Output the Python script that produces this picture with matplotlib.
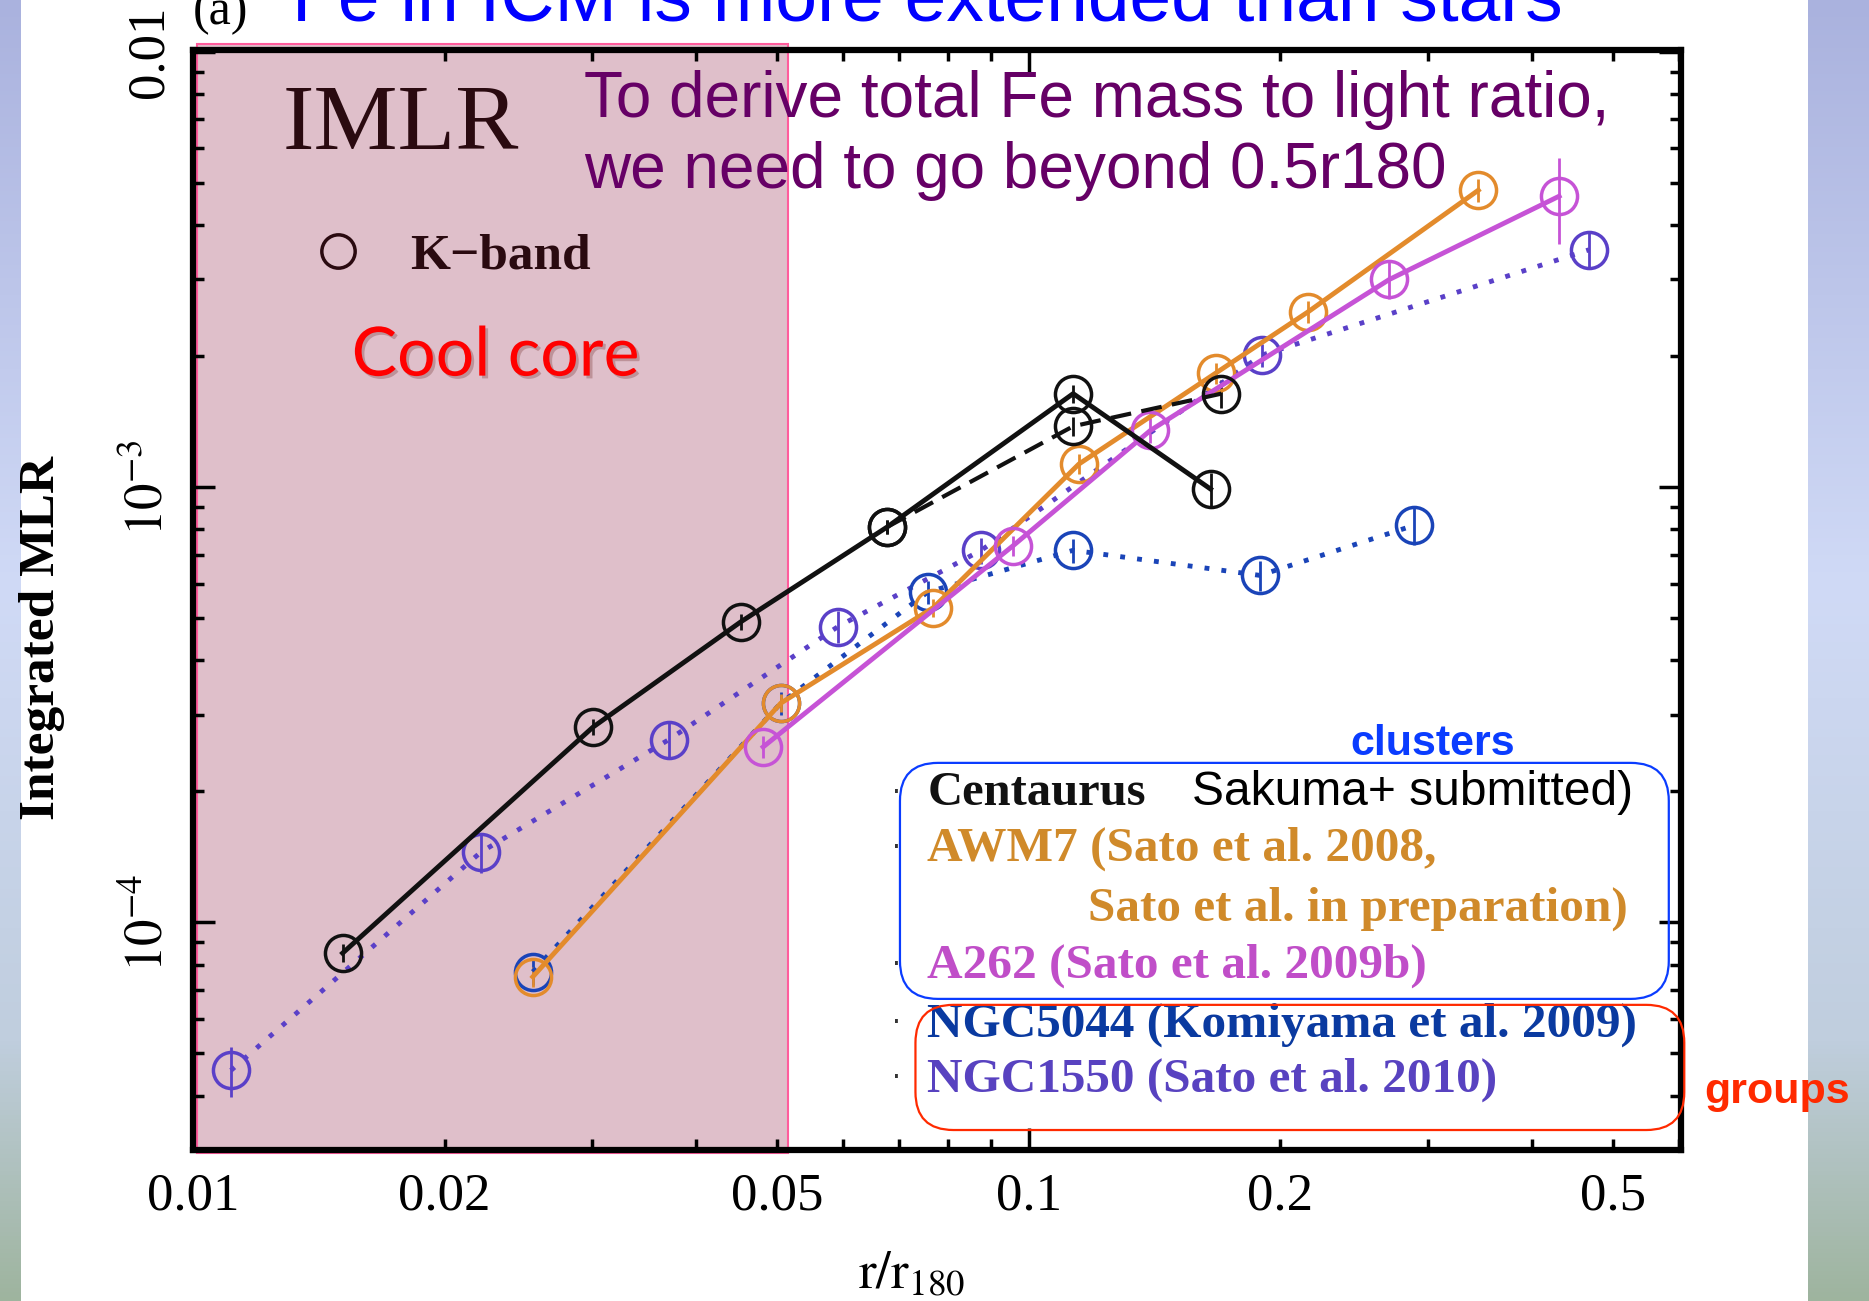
import matplotlib
matplotlib.use('Agg')
import matplotlib.pyplot as plt
import matplotlib.patheffects as pe
import numpy as np
from matplotlib.patches import FancyBboxPatch, Rectangle
from matplotlib.lines import Line2D
from matplotlib.ticker import LogLocator, NullFormatter

plt.rcParams['mathtext.fontset'] = 'stix'
SERIF = ['Liberation Serif', 'DejaVu Serif']
NARROW = ['Liberation Sans Narrow', 'Liberation Sans', 'DejaVu Sans']

# ---- data (r/r180, integrated MLR) ----
# Centaurus (solid) and its dashed variant
cen_x = [0.0151, 0.0301, 0.0452, 0.0677, 0.113, 0.165]
cen_y = [8.5e-5, 2.81e-4, 4.9e-4, 8.1e-4, 1.64e-3, 9.9e-4]
cen_err = [4e-6, 1.2e-5, 2e-5, 3e-5, 8e-5, 9e-5]
cen2_x = [0.0677, 0.113, 0.170]
cen2_y = [8.1e-4, 1.38e-3, 1.64e-3]
cen2_err = [3e-5, 7e-5, 1.2e-4]

# AWM7
awm_x = [0.0255, 0.0505, 0.0769, 0.1148, 0.1675, 0.216, 0.345]
awm_y = [7.5e-5, 3.19e-4, 5.29e-4, 1.13e-3, 1.83e-3, 2.53e-3, 4.81e-3]
awm_err = [4e-6, 1.5e-5, 2.5e-5, 6e-5, 1e-4, 1.5e-4, 3e-4]

# A262
a262_x = [0.0481, 0.0958, 0.1398, 0.270, 0.431]
a262_y = [2.53e-4, 7.34e-4, 1.35e-3, 3.0e-3, 4.66e-3]
a262_err = [1.5e-5, 4e-5, 9e-5, 3e-4, 1.05e-3]

# NGC5044
n5044_x = [0.0255, 0.0505, 0.0757, 0.113, 0.189, 0.289]
n5044_y = [7.7e-5, 3.19e-4, 5.74e-4, 7.16e-4, 6.27e-4, 8.17e-4]
n5044_err = [5e-6, 2e-5, 3.5e-5, 4.5e-5, 5e-5, 8e-5]

# NGC1550
n1550_x = [0.0111, 0.0221, 0.0371, 0.0591, 0.0877, 0.190, 0.468]
n1550_y = [4.57e-5, 1.45e-4, 2.63e-4, 4.78e-4, 7.16e-4, 2.01e-3, 3.51e-3]
n1550_err = [6e-6, 1.5e-5, 2.5e-5, 4e-5, 5e-5, 1.2e-4, 3.2e-4]

xtick_major = [0.01, 0.1]
xtick_major_labels = ['0.01', '0.1']
xtick_minor = [0.02, 0.03, 0.04, 0.05, 0.06, 0.07, 0.08, 0.09, 0.2, 0.3, 0.4, 0.5, 0.6]
xtick_minor_labels = ['0.02', '', '', '0.05', '', '', '', '', '0.2', '', '', '0.5', '']
ytick_major = [1e-4, 1e-3, 1e-2]
ytick_labels = ['$10^{-4}$', '$10^{-3}$', '0.01']

legend_rows = ['Centaurus', 'AWM7 (Sato et al. 2008,', 'Sato et al. in preparation)',
               'A262 (Sato et al. 2009b)', 'NGC5044 (Komiyama et al. 2009)',
               'NGC1550 (Sato et al. 2010)']

C_BLACK = '#111111'
C_AWM = '#e38b2c'
C_A262 = '#c653d6'
C_5044 = '#1a44b8'
C_1550 = '#5a40c8'

W, H = 1568.0, 1091.0   # coordinates below measured on the shrunk slide


def fx(p):
    return p / W


def fy(p):
    return 1 - p / H


fig = plt.figure(figsize=(18.69, 13.01), dpi=100)

# slide side strips with vertical gradient
bg = fig.add_axes([0, 0, 1, 1], zorder=-10)
stops = [0.0, 0.45, 0.8, 1.0]
cols = np.array([[170, 178, 222], [208, 218, 246], [192, 206, 222], [158, 180, 158]]) / 255.
t = np.linspace(0, 1, 300)
grad = np.stack([np.interp(t, stops, cols[:, k]) for k in range(3)], axis=1)[:, None, :]
bg.imshow(grad, extent=[0, 0.0108, 0, 1], aspect='auto')
bg.imshow(grad, extent=[0.9675, 1, 0, 1], aspect='auto')
bg.set_xlim(0, 1)
bg.set_ylim(0, 1)
bg.axis('off')

ax = fig.add_axes([193 / 1869, 1 - 1150 / 1301, (1681 - 193) / 1869, (1150 - 50) / 1301])
ax.set_xscale('log')
ax.set_yscale('log')
ax.set_xlim(0.01, 0.603)
ax.set_ylim(3.0e-5, 0.0101)

common = dict(marker='o', mfc='none', ms=26, mew=2.5, capsize=0, elinewidth=2)
ax.errorbar(n1550_x, n1550_y, yerr=n1550_err, color=C_1550, ls=(0, (1, 2.5)), lw=3.5, **common)
ax.errorbar(n5044_x, n5044_y, yerr=n5044_err, color=C_5044, ls=(0, (1, 2.5)), lw=3.5, **common)
ax.errorbar(awm_x, awm_y, yerr=awm_err, color=C_AWM, ls='-', lw=3.5, **common)
ax.errorbar(a262_x, a262_y, yerr=a262_err, color=C_A262, ls='-', lw=3.5, **common)
ax.errorbar(cen2_x, cen2_y, yerr=cen2_err, color=C_BLACK, ls=(0, (5, 2.5)), lw=3, **common)
ax.errorbar(cen_x, cen_y, yerr=cen_err, color=C_BLACK, ls='-', lw=3.5, **common)

# cool core shading
ax.add_patch(Rectangle((0.0101, -0.003), 0.0515 - 0.0101, 1.008,
                       transform=ax.get_xaxis_transform(), fc='#dfbfca', ec='#ff5c9c',
                       lw=1.5, zorder=0.5, clip_on=False))

for s in ax.spines.values():
    s.set_linewidth(4.5)
ax.set_xticks(xtick_major)
ax.set_xticklabels(xtick_major_labels)
ax.set_xticks(xtick_minor, minor=True)
ax.set_xticklabels(xtick_minor_labels, minor=True)
ax.set_yticks(ytick_major)
ax.set_yticklabels(ytick_labels)
ax.yaxis.set_minor_locator(LogLocator(base=10, subs=np.arange(2, 10)))
ax.yaxis.set_minor_formatter(NullFormatter())
ax.tick_params(which='both', direction='in', top=True, right=True, width=2.5)
ax.tick_params(which='major', length=16)
ax.tick_params(which='minor', length=8)
ax.tick_params(axis='x', which='both', labelsize=38, pad=16)
ax.tick_params(axis='y', which='both', labelsize=38, pad=14, labelrotation=90)
for lab in ax.get_xticklabels(which='both') + ax.get_yticklabels():
    lab.set_family(SERIF)
for lab in ax.get_yticklabels():
    lab.set_va('center')

fig.text(fx(35), fy(535), 'Integrated MLR', rotation=90, ha='center', va='center',
         fontsize=37, fontweight='bold', family=SERIF)
fig.text(fx(765), fy(1068), r'$\mathrm{r/r}_{180}$', ha='center', va='center', fontsize=38)

# panel annotations from the paper
fig.text(fx(162), fy(20), '(a)', fontsize=36, family=SERIF, va='baseline')
fig.text(fx(237), fy(125), 'IMLR', fontsize=68, family=SERIF, color='#2a0a10', va='baseline')
kh = Line2D([], [], ls='none', marker='o', mfc='none', mec='#2a0a10', ms=24, mew=2.5)
leg = ax.legend([kh], ['K\u2212band'], loc='center left', bbox_to_anchor=(fx(262), fy(215)),
                bbox_transform=fig.transFigure, frameon=False, handlelength=1.0,
                handletextpad=0.9, borderpad=0, borderaxespad=0,
                prop={'family': SERIF, 'size': 37, 'weight': 'bold'})
for tx in leg.get_texts():
    tx.set_color('#2a0a10')

# slide overlays
fig.text(fx(245), fy(17), 'Fe in ICM is more extended than stars', fontsize=54,
         family=NARROW, color='#0000ff', va='baseline')
fig.text(fx(490), fy(98), 'To derive total Fe mass to light ratio,', fontsize=46,
         family=NARROW, color='#660066', va='baseline')
fig.text(fx(490), fy(158), 'we need to go beyond 0.5r180', fontsize=46,
         family=NARROW, color='#660066', va='baseline')
fig.text(fx(295), fy(315), 'Cool core', fontsize=49, family=['Lato', 'DejaVu Sans'],
         color='#ff0000', va='baseline',
         path_effects=[pe.withSimplePatchShadow(offset=(2, -2), shadow_rgbFace='#804040', alpha=0.35)])

# grouping boxes
for (x0, y0, x1, y1, ec) in [(755, 640, 1400, 838, '#0a3cff'), (768, 843, 1413, 948, '#ff2a00')]:
    box = FancyBboxPatch((x0 * 1.192 / 100, (1301 - y1 * 1.192) / 100),
                         (x1 - x0) * 1.192 / 100, (y1 - y0) * 1.192 / 100,
                         boxstyle='round,pad=0,rounding_size=0.38',
                         transform=fig.dpi_scale_trans, fc='none', ec=ec, lw=1.6, zorder=5)
    fig.add_artist(box)

fig.text(fx(1202), fy(633), 'clusters', fontsize=31, fontweight='bold', family=NARROW,
         color='#0a3cff', ha='center', va='baseline')
fig.text(fx(1430), fy(925), 'groups', fontsize=31, fontweight='bold', family=NARROW,
         color='#ff2a00', va='baseline')

row_y = [675, 722, 772, 820, 869, 915]
row_x = [778, 778, 913, 778, 778, 778]
row_c = [C_BLACK, '#d08a2a', '#d08a2a', '#c04ec8', '#0a3aa0', '#5842c0']
for s, xx, yy, cc in zip(legend_rows, row_x, row_y, row_c):
    fig.text(fx(xx), fy(yy), s, fontsize=35 if s == 'Centaurus' else 35.5, family=SERIF,
             color=cc, va='baseline', fontweight='bold')
for yy in [665, 711, 809, 858, 904]:
    fig.text(fx(752), fy(yy), '\u00b7', fontsize=20, color='#333333', ha='center', va='center')
fig.text(fx(1000), fy(675), 'Sakuma+ submitted)', fontsize=34.5, family=NARROW,
         color='black', va='baseline')

fig.savefig('out.png', dpi=100)
